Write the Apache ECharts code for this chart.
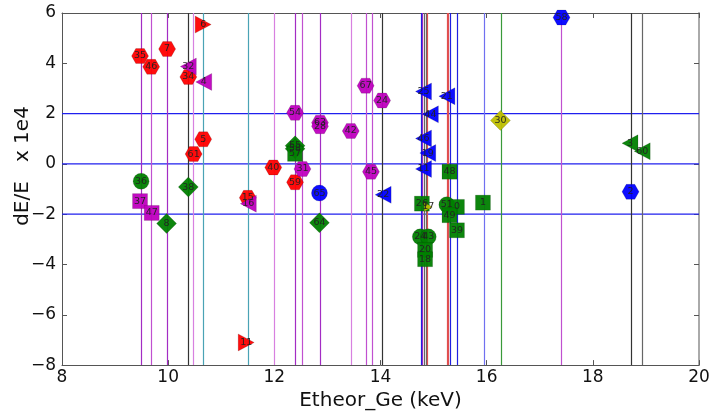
<!DOCTYPE html>
<html>
<head>
<meta charset="utf-8">
<script src="https://cdn.jsdelivr.net/npm/echarts@6/dist/echarts.min.js"></script>
<style>
  html, body { margin: 0; padding: 0; background: #fff; }
  #chart { width: 714px; height: 416px; }
</style>
</head>
<body>
<div id="chart"></div>
<script>
// reference energies, grouped by line colour
var purpleLines = [9.49, 9.99, 12.39, 12.86, 14.79];
var violetLines = [9.69, 12.53, 13.73, 13.84, 17.41];
var pinkLines = [10.48, 12.00, 13.45];
var tealLines = [10.67, 11.50];
var blackLines = [10.38, 14.04, 18.72];
var grayLines = [14.83, 14.86, 18.93];
var redLines = [14.89, 15.25, 15.27];
var blueLines = [14.77, 15.32, 15.45];
var lightBlueLines = [15.95];
var greenLines = [16.27];
var hLines = [2, 0, -2];
var xRange = [8, 20];

// points: [Etheor, dE/E x1e4, label]
var redHex = [[9.98, 4.57, '7'], [9.47, 4.29, '35'], [9.68, 3.86, '46'], [10.38, 3.46, '34'],
  [10.66, 0.98, '5'], [10.48, 0.39, '61'], [11.98, -0.14, '40'], [12.39, -0.73, '59'], [11.50, -1.35, '15']];
var redTriR = [[10.66, 5.54, '6'], [11.47, -7.10, '11']];
var magTriL = [[10.38, 3.87, '32'], [10.67, 3.26, '4'], [11.51, -1.58, '16']];
var magHex = [[12.39, 2.03, '54'], [12.86, 1.64, '63'], [12.86, 1.50, '28'], [13.72, 3.11, '67'],
  [14.03, 2.52, '24'], [13.44, 1.31, '42'], [13.82, -0.31, '45'], [12.53, -0.20, '31']];
var magSq = [[9.47, -1.48, '37'], [9.69, -1.95, '47']];
var greenCirc = [[9.49, -0.69, '36'], [15.25, -1.62, '51'], [14.75, -2.90, '24'], [14.90, -2.90, '43']];
var greenDia = [[10.38, -0.92, '38'], [9.97, -2.37, '8'], [12.39, 0.72, '55'], [12.39, 0.60, '58'], [12.85, -2.34, '64']];
var greenSq = [[12.39, 0.40, '57'], [14.78, -1.58, '26'], [15.44, -1.71, '0'], [15.30, -2.04, '49'],
  [15.30, -0.31, '48'], [15.44, -2.64, '39'], [15.93, -1.54, '1'], [14.84, -3.42, '20'], [14.84, -3.79, '18']];
var greenTriL = [[18.70, 0.82, '3'], [18.93, 0.50, '60']];
var blueHex = [[17.41, 5.82, '58'], [18.71, -1.11, '2']];
var blueCirc = [[12.85, -1.16, '65']];
var blueTriL = [[14.05, -1.23, '22'], [14.81, 2.88, '25'], [14.94, 1.97, '44'], [14.81, 1.01, '46'],
  [14.89, 0.43, '19'], [14.81, -0.20, '11'], [15.25, 2.69, '21']];
var yellowDia = [[16.26, 1.73, '30']];
var yellowTriR = [[14.90, -1.71, '17']];

var HEX = 'path://M0,5 L3,0 L9,0 L12,5 L9,10 L3,10 Z';
var TRI_L = 'path://M0,5 L10,0 L10,10 Z';
var TRI_R = 'path://M10,5 L0,0 L0,10 Z';
var DIA = 'path://M5,0 L10,5 L5,10 L0,5 Z';

var FONT = 'DejaVu Sans';

function pts(name, data, color, symbol, size) {
	return {
		name: name,
		type: 'scatter',
		data: data,
		symbol: symbol,
		symbolSize: size,
		z: 5,
		itemStyle: { color: color, opacity: 0.95, borderColor: 'rgba(0,0,0,0.3)', borderWidth: 0.5 },
		label: {
			show: true,
			position: 'inside',
			formatter: function (p) { return p.value[2]; },
			fontSize: 9.5,
			fontFamily: FONT,
			color: '#222'
		}
	};
}

function vLines(list, color) {
	return list.map(function (v) {
		return { xAxis: v, lineStyle: { color: color, width: 1.2, type: 'solid' } };
	});
}

var vData = [].concat(
	vLines(purpleLines, '#a32cc4'),
	vLines(violetLines, '#c050d0'),
	vLines(pinkLines, '#d880e0'),
	vLines(tealLines, '#4aa3b5'),
	vLines(blackLines, '#333333'),
	vLines(grayLines, '#666666'),
	vLines(redLines, '#e05050'),
	vLines(blueLines, '#2020e0'),
	vLines(lightBlueLines, '#7070f0'),
	vLines(greenLines, '#3a9a3a')
);

// horizontal guides as plain line series
var hSeries = hLines.map(function (v) {
	return {
		type: 'line', silent: true, z: 2, symbol: 'none',
		data: [[xRange[0], v], [xRange[1], v]],
		lineStyle: { color: '#2020ee', width: 1.2 }
	};
});

var minus = function (v) { return String(v).replace('-', '\u2212'); };

var chart = echarts.init(document.getElementById('chart'));
var option = {
	animation: false,
	backgroundColor: '#fff',
	grid: { left: 62, right: 15, top: 13, bottom: 48 },
	graphic: [{
		type: 'text', x: 23, y: 166, rotation: Math.PI / 2,
		style: { text: 'dE/E   x 1e4', font: '20px "DejaVu Sans"', fill: '#111', align: 'center', verticalAlign: 'middle' }
	}],
	xAxis: [{
		type: 'value', min: 8, max: 20, interval: 2,
		name: 'Etheor_Ge (keV)', nameLocation: 'middle', nameGap: 24,
		nameTextStyle: { fontSize: 20, fontFamily: FONT, color: '#111' },
		axisLine: { onZero: false, lineStyle: { color: '#555', width: 1 } },
		axisTick: { inside: true, length: 5, lineStyle: { color: '#555' } },
		axisLabel: { fontSize: 17, fontFamily: FONT, color: '#111', margin: 4, formatter: minus },
		splitLine: { show: false }
	}, {
		type: 'value', min: 8, max: 20, interval: 2, position: 'top',
		axisLine: { show: true, onZero: false, lineStyle: { color: '#555', width: 1 } },
		axisTick: { inside: true, length: 5, lineStyle: { color: '#555' } },
		axisLabel: { show: false },
		splitLine: { show: false }
	}],
	yAxis: [{
		type: 'value', min: -8, max: 6, interval: 2,
		axisLine: { show: true, onZero: false, lineStyle: { color: '#555', width: 1 } },
		axisTick: { show: true, inside: true, length: 5, lineStyle: { color: '#555' } },
		axisLabel: { fontSize: 17, fontFamily: FONT, color: '#111', margin: 6, formatter: minus },
		splitLine: { show: false }
	}, {
		type: 'value', min: -8, max: 6, interval: 2, position: 'right',
		axisLine: { show: true, onZero: false, lineStyle: { color: '#aaa', width: 2 } },
		axisTick: { show: true, inside: true, length: 5, lineStyle: { color: '#555' } },
		axisLabel: { show: false },
		splitLine: { show: false }
	}],
	series: [
		{
			type: 'scatter', data: [], silent: true, z: 1,
			markLine: { silent: true, symbol: 'none', label: { show: false }, animation: false, data: vData }
		}
	].concat(hSeries, [
		pts('redHex', redHex, '#ff0000', HEX, [17, 15]),
		pts('redTriR', redTriR, '#ff0000', TRI_R, [16, 17]),
		pts('magTriL', magTriL, '#bf00bf', TRI_L, [16, 17]),
		pts('magHex', magHex, '#bf00bf', HEX, [17, 15]),
		pts('magSq', magSq, '#bf00bf', 'rect', 15),
		pts('greenCirc', greenCirc, '#007f00', 'circle', 16),
		pts('greenDia', greenDia, '#007f00', DIA, 20),
		pts('greenSq', greenSq, '#007f00', 'rect', 15),
		pts('greenTriL', greenTriL, '#007f00', TRI_L, [16, 17]),
		pts('blueHex', blueHex, '#0000ff', HEX, [17, 15]),
		pts('blueCirc', blueCirc, '#0000ff', 'circle', 16),
		pts('blueTriL', blueTriL, '#0000ff', TRI_L, [16, 17]),
		pts('yellowDia', yellowDia, '#bfbf00', DIA, 20),
		pts('yellowTriR', yellowTriR, '#bfbf00', TRI_R, [8, 9])
	])
};
chart.setOption(option);
</script>
</body>
</html>
